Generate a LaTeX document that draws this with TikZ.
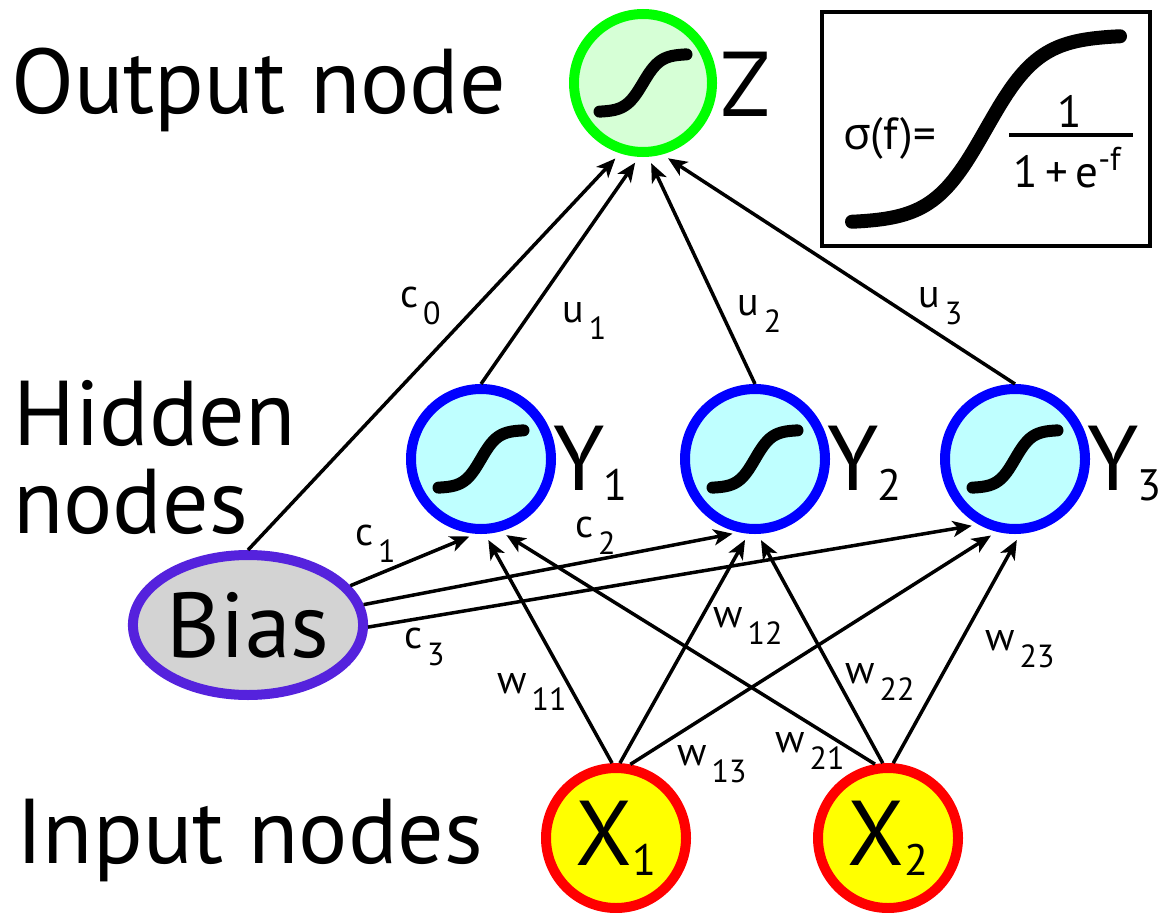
\documentclass[tikz,border=0pt]{standalone}
\usepackage{fontspec}
\setmainfont{PT Sans}
\newfontfamily\greekfont{Open Sans}
\usetikzlibrary{arrows.meta,calc,shapes.geometric}
\definecolor{outring}{HTML}{00FF00}
\definecolor{outfill}{HTML}{D6FFD6}
\definecolor{hidring}{HTML}{0000FF}
\definecolor{hidfill}{HTML}{BFFFFF}
\definecolor{biasring}{HTML}{5522DD}
\definecolor{biasfill}{HTML}{D3D3D3}
\definecolor{inring}{HTML}{FF0000}
\definecolor{infill}{HTML}{FFFF00}

% label with a lowered index
\newcommand{\wsub}[2]{#1\kern5pt\raisebox{-17pt}{\fontsize{32}{32}\selectfont #2}}
\newcommand{\bigsub}[3][0pt]{#2\kern#1\raisebox{-10pt}{\fontsize{44}{44}\selectfont #3}}
% logistic curve: centre x, centre y, width, height
\newcommand{\sshape}[5][sigline]{%
  \draw[#1] plot[variable=\t, domain=-5:5, samples=41, smooth]
    ({#2+#4*\t/10}, {#3+#5*(0.5-1/(1+exp(-\t)))});}

\begin{document}
\begin{tikzpicture}[
    x=1pt, y=-1pt,
    outnode/.style={circle, draw=outring, fill=outfill, line width=10pt,
                    minimum size=138pt, inner sep=0pt},
    hidnode/.style={circle, draw=hidring, fill=hidfill, line width=10pt,
                    minimum size=140pt, inner sep=0pt},
    innode/.style={circle, draw=inring, fill=infill, line width=10pt,
                   minimum size=140pt, inner sep=0pt,
                   font=\fontsize{92}{92}\selectfont},
    biasnode/.style={ellipse, draw=biasring, fill=biasfill, line width=10pt,
                     minimum width=214pt, minimum height=140pt, inner sep=0pt,
                     font=\fontsize{92}{92}\selectfont},
    layerlbl/.style={font=\fontsize{92}{92}\selectfont, anchor=base west, inner sep=0pt},
    wlbl/.style={font=\fontsize{40}{40}\selectfont, anchor=base west, inner sep=0pt},
    boxtxt/.style={font=\fontsize{45}{45}\selectfont, anchor=base west, inner sep=0pt},
    conn/.style={-{Stealth[length=19pt,width=16pt,inset=5pt]}, line width=3.5pt,
                 shorten >=7pt},
    sigline/.style={line width=12pt, line cap=round},
]
\useasboundingbox (0,0) rectangle (1158,912);

% ── Layer names ─────────────────────────────────────────────────
\node[layerlbl] (outlbl) at (11,114) {Output node};
\node[layerlbl] (hidlbl) at (13,445) {Hidden};
\node[layerlbl] (hidlblb) at (13,533) {nodes};
\node[layerlbl] (inlbl) at (16,863) {Input nodes};

% ── Sigmoid legend ──────────────────────────────────────────────
\node[draw, line width=4pt, minimum width=328pt, minimum height=234pt,
      inner sep=0pt] (sigbox) at (986,129) {};
\sshape[line width=14pt, line cap=round]{986}{129}{268}{188}
\node[boxtxt] (sigf) at (843,150) {{\greekfont σ}(f)=};
\node[boxtxt, anchor=base] (signum) at (1070,128) {1};
\node[boxtxt] (sigden) at (1013,187)
  {1\,+\,e\raisebox{17pt}{\fontsize{33}{33}\selectfont -f}};
\draw[line width=4pt] (1009,135) -- (1133,135);

% ── Output node ─────────────────────────────────────────────────
\node[outnode] (Z) at (643,83) {};
\sshape{643}{83}{87}{58}
\node[layerlbl] (lZ) at (720,117) {Z};

% ── Hidden nodes ────────────────────────────────────────────────
\foreach \i/\px in {1/481, 2/755, 3/1015}{
  \node[hidnode] (Y\i) at (\px,459) {};
  \sshape{\px}{459}{85}{58}
  \node[layerlbl] (lY\i) at ($(Y\i.east)+(-3,31)$) {\bigsub[-1pt]{Y}{\i}};
}

% ── Bias and inputs ─────────────────────────────────────────────
\node[biasnode] (Bias) at (248,625) {Bias};
\node[innode] (X1) at (616,838) {\bigsub[1pt]{X}{1}};
\node[innode] (X2) at (888,838) {\bigsub[1pt]{X}{2}};

% ── Connections to output ───────────────────────────────────────
\draw[conn] (Bias.north) -- (Z.-108);
\draw[conn] (Y1.north) -- (Z.-93);
\draw[conn] (Y2.north) -- (Z.-86);
\draw[conn] (Y3.north) -- (Z.-75);

% ── Bias to hidden ──────────────────────────────────────────────
\draw[conn] (Bias.21) -- (Y1.-94);
\draw[conn] (Bias.10) -- (Y2.-102);
\draw[conn] (Bias.-1) -- (Y3.-119);

% ── Inputs to hidden ────────────────────────────────────────────
\draw[conn] (X1.93) -- (Y1.-87);
\draw[conn] (X1.87) -- (Y2.-95);
\draw[conn] (X1.79) -- (Y3.-104);
\draw[conn] (X2.100) -- (Y1.-75);
\draw[conn] (X2.94) -- (Y2.-88);
\draw[conn] (X2.86) -- (Y3.-86);

% ── Weight labels ───────────────────────────────────────────────
\node[wlbl] (lc0) at (400,307) {\wsub{c}{0}};
\node[wlbl] (lu1) at (562,322) {\wsub{u}{1}};
\node[wlbl] (lu2) at (737,315) {\wsub{u}{2}};
\node[wlbl] (lu3) at (918,307) {\wsub{u}{3}};
\node[wlbl] (lc1) at (355,545) {\wsub{c}{1}};
\node[wlbl] (lc2) at (575,537) {\wsub{c}{2}};
\node[wlbl] (lc3) at (404,648) {\wsub{c}{3}};
\node[wlbl] (lw11) at (497,693) {\wsub{w}{11}};
\node[wlbl] (lw12) at (713,627) {\wsub{w}{12}};
\node[wlbl] (lw13) at (677,765) {\wsub{w}{13}};
\node[wlbl] (lw21) at (775,752) {\wsub{w}{21}};
\node[wlbl] (lw22) at (845,683) {\wsub{w}{22}};
\node[wlbl] (lw23) at (985,650) {\wsub{w}{23}};

\end{tikzpicture}
\end{document}
